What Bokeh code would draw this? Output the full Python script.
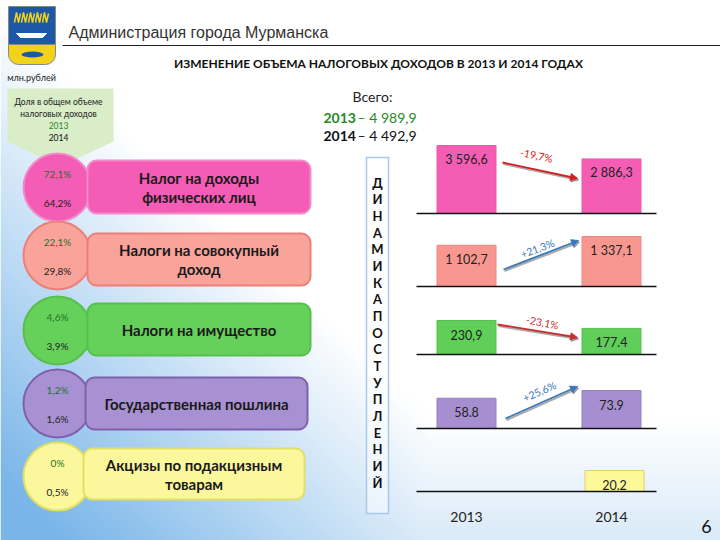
import numpy as np
from bokeh.plotting import figure
from bokeh.models import Range1d, Arrow, NormalHead
from bokeh.core.properties import value
from bokeh.embed import file_html
from bokeh.resources import INLINE

# ---------------- data ----------------
years = ["2013", "2014"]
category_lines = [
    ["Налог на доходы", "физических лиц"],
    ["Налоги на совокупный", "доход"],
    ["Налоги на имущество"],
    ["Государственная пошлина"],
    ["Акцизы по подакцизным", "товарам"],
]
share_2013 = ["72,1%", "22,1%", "4,6%", "1,2%", "0%"]
share_2014 = ["64,2%", "29,8%", "3,9%", "1,6%", "0,5%"]
values_2013 = [3596.6, 1102.7, 230.9, 58.8, 0.0]
values_2014 = [2886.3, 1337.1, 177.4, 73.9, 20.2]
labels_2013 = ["3 596,6", "1 102,7", "230,9", "58.8", ""]
labels_2014 = ["2 886,3", "1 337,1", "177.4", "73.9", "20.2"]
change_labels = ["-19,7%", "+21,3%", "-23,1%", "+25,6%"]
total_2013 = "4 989,9"
total_2014 = "4 492,9"
vertical_title = "ДИНАМИКАПОСТУПЛЕНИЙ"

# ---------------- styles / layout ----------------
FONT = "Lato"
fills = ["#f45cb6", "#f9a39b", "#66d15a", "#a891d2", "#fbf79c"]
edges = ["#f08ccc", "#ec7f7a", "#56c04c", "#7d61ae", "#e2df62"]
bar_fills = ["#f55db4", "#f8978f", "#5fcf5a", "#a68fd0", "#fdf89a"]
bar_edges = ["#e85aa8", "#e88880", "#55c050", "#9580c0", "#e0cf6a"]
circle_y = [187, 255, 330, 403, 476]
rect_box = [(87, 310, 160, 213), (87, 310, 233, 285), (87, 310, 303, 355),
            (85, 307, 377, 429), (83, 304, 448, 499)]
baselines = [213, 286, 354, 428, 491]
max_bar_px = [68, 50, 34, 38, 21]
bar_x = [466, 611]

W, H = 720, 540
p = figure(width=W, height=H, x_range=Range1d(0, W), y_range=Range1d(H, 0),
           output_backend="svg", toolbar_location=None, min_border=0,
           x_axis_location=None, y_axis_location=None)
p.grid.visible = False
p.outline_line_color = None
p.background_fill_color = "white"
p.border_fill_color = "white"

# background gradient
gh, gw = 270, 360
gx = np.linspace(0, W, gw)
gy = np.linspace(0, H, gh)
GX, GY = np.meshgrid(gx, gy)
w1 = np.clip((GY - 60) / 470 - GX / 500 + 0.1, 0, 1)
w2 = np.clip((GY - 420) / 120, 0, 1) * 0.28
wgt = np.maximum(w1, w2) * 0.95
blue = np.array([115, 178, 232])
rgb = 255 * (1 - wgt[..., None]) + blue * wgt[..., None]
img = np.empty((gh, gw), dtype=np.uint32)
view = img.view(dtype=np.uint8).reshape((gh, gw, 4))
view[..., 0] = rgb[..., 0]
view[..., 1] = rgb[..., 1]
view[..., 2] = rgb[..., 2]
view[..., 3] = 255
p.image_rgba(image=[img], x=0, y=0, dw=W, dh=H)

# logo
p.quad(left=8, right=55, top=6, bottom=44, fill_color="#1d58a8", line_color="#888888", line_width=1)
p.quad(left=8, right=55, top=44, bottom=64, fill_color="#f3d21a", line_color="#888888", line_width=1,
       border_radius=(0, 0, 10, 10))
for k in range(5):
    xs = [14 + k * 7, 16 + k * 7, 18 + k * 7, 20 + k * 7]
    p.line(xs, [22, 12, 22, 13], line_color="#f3d21a", line_width=1.5)
p.patch([16, 46, 42, 20], [33, 33, 37, 37], fill_color="white", line_color="white")
p.ellipse(x=32, y=54, width=22, height=6, fill_color="#1d58a8", line_color=None)

# header
p.text(x=[68], y=[32], text=["Администрация города Мурманска"], text_font=value("Liberation Sans"),
       text_font_size="16px", text_color="#333333", text_align="left", text_baseline="middle")
p.segment(x0=[62], y0=[45], x1=[720], y1=[45], line_color="#222222", line_width=1.2)
p.text(x=[378], y=[63], text=["ИЗМЕНЕНИЕ ОБЪЕМА НАЛОГОВЫХ ДОХОДОВ В 2013 И 2014 ГОДАХ"],
       text_font=value(FONT), text_font_size="12px", text_font_style="bold", text_color="#111111",
       text_align="center", text_baseline="middle")
p.text(x=[31], y=[77], text=["млн.рублей"], text_font=value(FONT), text_font_size="9px",
       text_color="#222222", text_align="center", text_baseline="middle")

# callout
p.patch([7, 113, 113, 60, 7], [88, 88, 141, 166, 141], fill_color="#d8edc8", line_color=None)
p.text(x=[58, 58], y=[101, 113], text=["Доля в общем объеме", "налоговых доходов"], text_font=value(FONT),
       text_font_size="8.5px", text_color="#222222", text_align="center", text_baseline="middle")
p.text(x=[58], y=[125], text=[years[0]], text_font=value(FONT), text_font_size="8.5px",
       text_color="#2a8a2a", text_align="center", text_baseline="middle")
p.text(x=[58], y=[137], text=[years[1]], text_font=value(FONT), text_font_size="8.5px",
       text_color="#111111", text_align="center", text_baseline="middle")

# totals
p.text(x=[372], y=[96], text=["Всего:"], text_font=value(FONT), text_font_size="14px",
       text_color="#222222", text_align="center", text_baseline="middle")
p.text(x=[323], y=[117], text=[years[0]], text_font=value(FONT), text_font_size="14px",
       text_font_style="bold", text_color="#1f8b1f", text_align="left", text_baseline="middle")
p.text(x=[357], y=[117], text=[" – " + total_2013], text_font=value(FONT), text_font_size="14px",
       text_color="#1f8b1f", text_align="left", text_baseline="middle")
p.text(x=[323], y=[135], text=[years[1]], text_font=value(FONT), text_font_size="14px",
       text_font_style="bold", text_color="#111111", text_align="left", text_baseline="middle")
p.text(x=[357], y=[135], text=[" – " + total_2014], text_font=value(FONT), text_font_size="14px",
       text_color="#111111", text_align="left", text_baseline="middle")

# left rows
p.circle(x=[57] * 5, y=circle_y, radius=34, fill_color=fills, line_color=edges, line_width=2)
p.quad(left=[b[0] for b in rect_box], right=[b[1] for b in rect_box],
       top=[b[2] for b in rect_box], bottom=[b[3] for b in rect_box],
       fill_color=fills, line_color=edges, line_width=2, border_radius=9)
p.text(x=[57] * 5, y=[c - 14 for c in circle_y], text=share_2013, text_font=value(FONT),
       text_font_size="10px", text_color="#24722a", text_align="center", text_baseline="middle")
p.text(x=[57] * 5, y=[c + 15 for c in circle_y], text=share_2014, text_font=value(FONT),
       text_font_size="10px", text_color="#222222", text_align="center", text_baseline="middle")
for i, lines in enumerate(category_lines):
    b = rect_box[i]
    cx = (b[0] + b[1]) / 2
    cy = (b[2] + b[3]) / 2
    n = len(lines)
    ys = [cy + (j - (n - 1) / 2) * 19 for j in range(n)]
    p.text(x=[cx] * n, y=ys, text=lines, text_font=value(FONT), text_font_size="15px",
           text_font_style="bold", text_color="#1a1a1a", text_align="center", text_baseline="middle")

# vertical title box
p.quad(left=366, right=388, top=157, bottom=513, fill_color="white", fill_alpha=0.5,
       line_color="#a9c9e9", line_width=1.5)
letters = list(vertical_title)
p.text(x=[377] * len(letters), y=[182 + i * 16.67 for i in range(len(letters))], text=letters,
       text_font=value(FONT), text_font_size="13px", text_font_style="bold", text_color="#111111",
       text_align="center", text_baseline="middle")

# right panels
for i in range(5):
    vmax = max(values_2013[i], values_2014[i])
    k = max_bar_px[i] / vmax
    b = baselines[i]
    name = f"p{i}"
    p.extra_y_ranges[name] = Range1d(start=(b - H) / k, end=b / k)
    xs, tops, labs = [], [], []
    for xv, v, lab in zip(bar_x, [values_2013[i], values_2014[i]], [labels_2013[i], labels_2014[i]]):
        if v > 0:
            xs.append(xv + (3 if i == 4 else 0))
            tops.append(v)
            labs.append(lab)
    p.vbar(x=xs, top=tops, bottom=0, width=59, fill_color=bar_fills[i], line_color=bar_edges[i],
           line_width=1, y_range_name=name)
    p.text(x=xs, y=tops, text=labs, y_offset=14, text_font=value(FONT), text_font_size="12.5px",
           text_color="#222222", text_align="center", text_baseline="middle", y_range_name=name)
    p.segment(x0=[416], x1=[656], y0=[0], y1=[0], line_color="#111111", line_width=1.4,
              y_range_name=name)

arrows = [(502, 162, 577, 178), (503, 269, 578, 240), (497, 324, 577, 337), (505, 418, 577, 386)]
arrow_cols = ["#d42020", "#3a78bc", "#c83030", "#3a78bc"]
label_pos = [(536, 155, -0.21), (537, 248, 0.36), (542, 322, -0.2), (539, 391, 0.42)]
for (x0, y0, x1, y1), col, (lx, ly, ang), lab in zip(arrows, arrow_cols, label_pos, change_labels):
    p.add_layout(Arrow(x_start=x0 + 1, y_start=y0 + 1.5, x_end=x1 + 1, y_end=y1 + 1.5,
                       line_color="#444444", line_alpha=0.45, line_width=2.2,
                       end=NormalHead(size=7, fill_color="#444444", line_color="#444444",
                                      fill_alpha=0.45, line_alpha=0.45)))
    p.add_layout(Arrow(x_start=x0, y_start=y0, x_end=x1, y_end=y1, line_color=col, line_width=1.8,
                       end=NormalHead(size=7, fill_color=col, line_color=col)))
    p.text(x=[lx], y=[ly], text=[lab], angle=ang, text_font=value(FONT), text_font_size="10.5px",
           text_color=col, text_align="center", text_baseline="middle")

p.text(x=bar_x, y=[516, 516], text=years, text_font=value(FONT), text_font_size="14px",
       text_color="#222222", text_align="center", text_baseline="middle")
p.text(x=[706], y=[526], text=["6"], text_font=value(FONT), text_font_size="18px",
       text_color="#111111", text_align="center", text_baseline="middle")

open("out.html", "w").write(file_html(p, INLINE))
